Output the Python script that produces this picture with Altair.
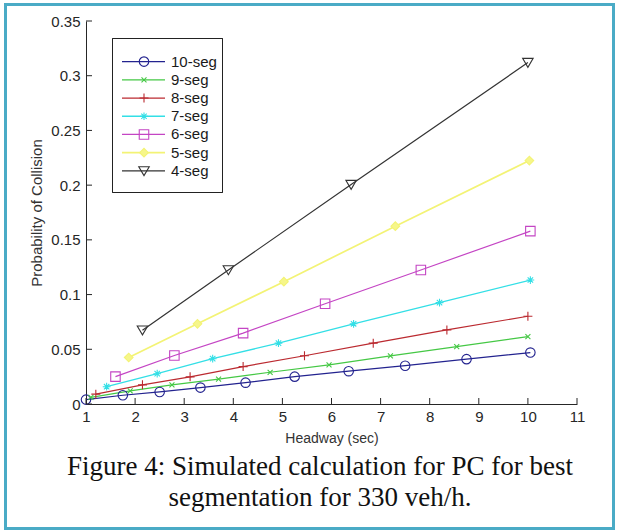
import altair as alt
import pandas as pd

series_names = ["10-seg", "9-seg", "8-seg", "7-seg", "6-seg", "5-seg", "4-seg"]

x10 = [1.0, 1.75, 2.5, 3.33, 4.25, 5.25, 6.35, 7.5, 8.75, 10.05]
y10 = [0.004, 0.008, 0.011, 0.015, 0.0195, 0.025, 0.030, 0.035, 0.041, 0.047]

x9 = [1.1, 1.9, 2.75, 3.7, 4.75, 5.95, 7.2, 8.55, 10.0]
y9 = [0.006, 0.012, 0.0175, 0.0228, 0.029, 0.0358, 0.044, 0.0525, 0.0615]

x8 = [1.2, 2.15, 3.12, 4.2, 5.45, 6.85, 8.35, 10.0]
y8 = [0.009, 0.0175, 0.0248, 0.0342, 0.0441, 0.0556, 0.0677, 0.0802]

x7 = [1.42, 2.45, 3.58, 4.92, 6.45, 8.2, 10.05]
y7 = [0.0158, 0.0277, 0.0414, 0.0556, 0.0733, 0.0926, 0.1133]

x6 = [1.6, 2.8, 4.2, 5.87, 7.82, 10.05]
y6 = [0.025, 0.0443, 0.0648, 0.0916, 0.1225, 0.158]

x5 = [1.87, 3.27, 5.03, 7.3, 10.03]
y5 = [0.0425, 0.0733, 0.1118, 0.1625, 0.2225]

x4 = [2.15, 3.9, 6.4, 10.0]
y4 = [0.0675, 0.1225, 0.2005, 0.312]

x_ticks = [1, 2, 3, 4, 5, 6, 7, 8, 9, 10, 11]
y_ticks = [0, 0.05, 0.1, 0.15, 0.2, 0.25, 0.3, 0.35]

caption_lines = ["Figure 4: Simulated calculation for PC for best",
                 "segmentation for 330 veh/h."]

colors = ["#23238f", "#45c845", "#bb2a30", "#33dfe6", "#c445c4", "#f3f375", "#333333"]
shapes = ["circle",
          "M-1,-1L1,1M-1,1L1,-1",
          "M-1,0H1M0,-1V1",
          "M-1,0H1M0,-1V1M-0.7,-0.7L0.7,0.7M-0.7,0.7L0.7,-0.7",
          "square", "diamond", "M-1,-0.8L1,-0.8L0,0.9Z"]
sizes = [90, 25, 81, 60, 90, 75, 110]
fills = ["transparent", "transparent", "transparent", "#33dfe6",
         "transparent", "#f6f68a", "transparent"]
line_widths = [1.2, 1.2, 1.2, 1.3, 1.2, 1.7, 1.2]

xs_all = [x10, x9, x8, x7, x6, x5, x4]
ys_all = [y10, y9, y8, y7, y6, y5, y4]

rows = []
for name, xs, ys in zip(series_names, xs_all, ys_all):
    for i, (a, b) in enumerate(zip(xs, ys)):
        rows.append({"series": name, "x": a, "y": b, "i": i})
df = pd.DataFrame(rows)
legend_df = pd.DataFrame({"series": series_names})
xt_df = pd.DataFrame({"x": x_ticks})
yt_df = pd.DataFrame({"t": y_ticks})

W, H = 491, 383
FONT = "Liberation Sans"
TXT = "#262626"

xscale = alt.Scale(domain=[1, 11], nice=False, zero=False)
yscale = alt.Scale(domain=[0, 0.35], nice=False, zero=False)

color_enc = alt.Color("series:N", scale=alt.Scale(domain=series_names, range=colors), legend=None)
shape_enc = alt.Shape("series:N", scale=alt.Scale(domain=series_names, range=shapes), legend=None)
size_enc = alt.Size("series:N", scale=alt.Scale(type="ordinal", domain=series_names, range=sizes), legend=None)
fill_enc = alt.Fill("series:N", scale=alt.Scale(domain=series_names, range=fills), legend=None)
sw_enc = alt.StrokeWidth("series:N", scale=alt.Scale(type="ordinal", domain=series_names, range=line_widths),
                         legend=None)

x_axis = alt.Axis(values=x_ticks, ticks=False, grid=False, domainColor=TXT, domainWidth=1,
                  labelFont=FONT, labelFontSize=15, labelColor=TXT, labelPadding=5,
                  labelFlush=False, labelOverlap=False,
                  title="Headway (sec)", titleFont=FONT, titleFontSize=14, titleFontWeight="normal",
                  titleColor="#333333", titleY=34, titleBaseline="middle")
y_axis = alt.Axis(values=y_ticks, format="~g", ticks=False, grid=False, domainColor=TXT, domainWidth=1,
                  labelFont=FONT, labelFontSize=15, labelColor=TXT, labelPadding=6,
                  labelFlush=False, labelOverlap=False,
                  title="Probability of Collision", titleFont=FONT, titleFontSize=15,
                  titleFontWeight="normal", titleColor="#333333",
                  titleX=-50, titleY=H / 2, titleAngle=270, titleAlign="center", titleBaseline="middle")

X = alt.X("x:Q", scale=xscale, axis=x_axis)

lines = alt.Chart(df).mark_line().encode(
    x=X,
    y=alt.Y("y:Q", scale=yscale, axis=y_axis),
    color=color_enc,
    strokeWidth=sw_enc,
    detail="series:N",
)

points = alt.Chart(df).mark_point(filled=False, strokeWidth=1.1, opacity=1).encode(
    x=X,
    y=alt.Y("y:Q", scale=yscale, axis=None),
    color=color_enc, shape=shape_enc, size=size_enc, fill=fill_enc,
)

xticks_l = alt.Chart(xt_df).mark_rule(color=TXT, strokeWidth=1).encode(
    x=X,
    y=alt.value(H), y2=alt.value(H - 6),
)
yticks_l = alt.Chart(yt_df).mark_rule(color=TXT, strokeWidth=1).encode(
    y=alt.Y("t:Q", scale=yscale, axis=None),
    x=alt.value(0), x2=alt.value(6),
)

leg_box = alt.Chart(legend_df).mark_rect(fill="white", stroke="#222222", strokeWidth=1).encode(
    x=alt.value(26.5), x2=alt.value(136.5), y=alt.value(17.5), y2=alt.value(171.5),
)
leg_y = alt.Y("series:N", sort=series_names,
              scale=alt.Scale(type="point", domain=series_names, range=[31.5, 159]), axis=None)
leg_lines = alt.Chart(legend_df).mark_rule().encode(
    y=leg_y, x=alt.value(36), x2=alt.value(79), color=color_enc, strokeWidth=sw_enc,
)
leg_pts = alt.Chart(legend_df).mark_point(filled=False, strokeWidth=1.1, opacity=1).encode(
    y=leg_y, x=alt.value(58), color=color_enc, shape=shape_enc, size=size_enc, fill=fill_enc,
)
leg_txt = alt.Chart(legend_df).mark_text(align="left", baseline="middle", font=FONT,
                                          fontSize=15, color="#1a1a1a").encode(
    y=leg_y, x=alt.value(85), text="series:N",
)

border = alt.Chart(legend_df.head(1)).mark_rect(fill="transparent", stroke="#4aabc6", strokeWidth=3).encode(
    x=alt.value(-80.5), x2=alt.value(527.5), y=alt.value(-16.5), y2=alt.value(507.5),
)

cap1 = alt.Chart(legend_df.head(1)).mark_text(font="Liberation Serif", fontSize=27, color="#111111",
                                               align="center", baseline="alphabetic").encode(
    x=alt.value(234), y=alt.value(454), text=alt.value(caption_lines[0]),
)
cap2 = alt.Chart(legend_df.head(1)).mark_text(font="Liberation Serif", fontSize=27, color="#111111",
                                               align="center", baseline="alphabetic").encode(
    x=alt.value(234), y=alt.value(485), text=alt.value(caption_lines[1]),
)

chart = alt.layer(
    lines, points, xticks_l, yticks_l, leg_box, leg_lines, leg_pts, leg_txt, border, cap1, cap2
).resolve_scale(y="independent").properties(
    width=W, height=H,
    autosize=alt.AutoSizeParams(type="none"),
    padding={"left": 86, "top": 21, "right": 40, "bottom": 126},
    background="white",
).configure_view(strokeOpacity=0)

chart.save("out.html", embed_options={"renderer": "svg", "actions": False})
